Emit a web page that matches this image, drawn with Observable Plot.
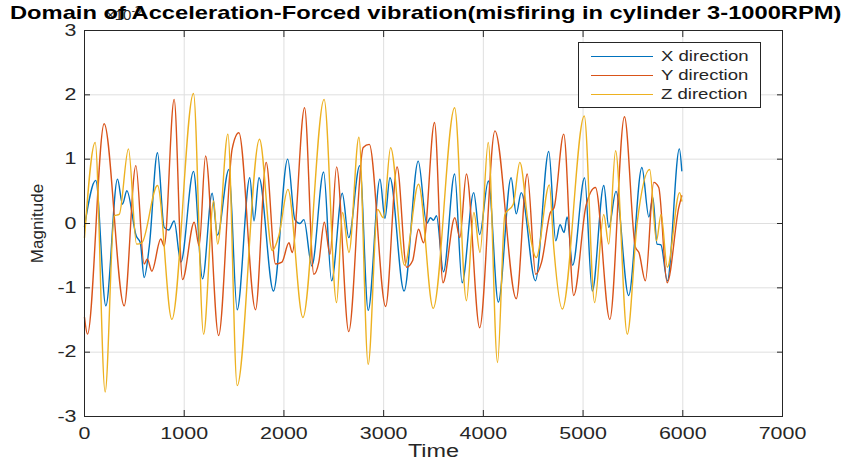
<!DOCTYPE html>
<html><head><meta charset="utf-8">
<script src="https://cdn.jsdelivr.net/npm/d3@7"></script>
<script src="https://cdn.jsdelivr.net/npm/@observablehq/plot@0.6"></script>
<style>
body{margin:0;background:#fff;}
#wrap{position:relative;width:857px;height:468px;font-family:"Liberation Sans",Arial,sans-serif;color:#262626;overflow:hidden;}
#title{position:absolute;left:10px;top:2px;font-weight:bold;font-size:19px;color:#000;white-space:nowrap;transform-origin:0 0;}
#expo{position:absolute;left:106px;top:4px;font-size:15px;color:#262626;}
#legend{position:absolute;left:578px;top:42px;width:181px;height:64px;border:1px solid #262626;background:#fff;font-size:14.5px;}
.li{position:absolute;left:0;height:18px;width:181px;}
.li span.sw{position:absolute;left:12px;top:9px;width:62px;height:0;border-top:1.3px solid;}
.li span.tx{position:absolute;left:82px;top:0;line-height:18px;white-space:nowrap;transform:scaleX(1.28);transform-origin:0 0;}
</style></head><body><div id="wrap"></div>
<script>
const seriesNames = ["X direction", "Y direction", "Z direction"];
const seriesColors = ["#0072BD", "#D95319", "#EDB120"];
const xTicks = [0, 1000, 2000, 3000, 4000, 5000, 6000, 7000];
const yTicks = [-3, -2, -1, 0, 1, 2, 3];

// X direction (blue)
const xTime = [0,113,214,331,381,425,520,560,598,650,732,799,845,899,966,1093,1184,1280,1333,1448,1531,1658,1700,1750,1895,2038,2110,2160,2200,2280,2398,2478,2585,2650,2760,2845,2963,3013,3063,3205,3347,3432,3470,3500,3530,3600,3712,3787,3903,3963,4050,4150,4278,4330,4380,4522,4656,4726,4769,4809,4840,4895,5015,5092,5208,5258,5330,5457,5590,5660,5700,5742,5780,5845,5966,5990];
const xVal  = [-0.05,0.67,-1.28,0.69,0.30,0.51,-0.2,-0.3,-0.84,-0.35,1.1,-0.06,-0.1,0.04,-0.6,0.81,-0.86,0.47,-0.18,0.84,-1.34,0.71,0.04,0.71,-1.05,1.0,0.06,0.0,0.06,-0.66,0.8,-0.89,0.47,-0.22,0.9,-1.35,0.69,0.08,0.71,-1.05,0.97,0.0,0.09,0.05,0.12,-0.75,0.77,-0.92,0.48,-0.17,0.66,-1.22,0.71,0.15,0.48,-0.89,1.12,-0.27,-0.02,-0.14,0.1,-0.65,0.71,-1.05,0.59,-0.06,0.5,-1.12,0.87,0.1,0.4,-0.32,-0.33,-0.89,1.16,0.82];

// Y direction (red)
const yTime = [0,30,197,398,515,598,630,675,765,799,899,983,1100,1150,1214,1345,1481,1548,1715,1822,1916,1980,2050,2083,2207,2300,2350,2405,2462,2528,2650,2795,2856,3020,3135,3230,3290,3350,3400,3510,3595,3714,3764,3830,3963,4116,4330,4440,4525,4584,4672,4710,4806,4906,5030,5124,5268,5415,5525,5560,5625,5709,5759,5843,5960,5990];
const yVal  = [-1.46,-1.72,1.55,-1.28,0.9,-0.63,-0.55,-0.74,-0.24,-0.35,1.93,-0.87,0.02,-0.35,1.05,-1.74,1.16,1.41,-1.34,0.95,-0.63,-0.6,-0.3,-0.45,1.8,-0.79,-0.6,0.02,-0.48,0.88,-1.68,1.18,1.23,-1.29,0.88,-0.68,-0.58,-0.09,-0.3,1.57,-0.92,0.09,-0.22,0.77,-1.62,1.44,-1.17,0.77,-0.79,-0.6,0.17,0.25,1.39,-1.12,0.28,0.56,-1.49,1.66,-0.37,-0.45,-0.89,0.64,0.56,-0.92,0.25,0.43];

// Z direction (yellow)
const zTime = [0,107,207,298,348,441,522,575,732,876,1093,1194,1295,1335,1438,1531,1755,1883,1949,2040,2190,2403,2528,2588,2652,2752,2845,2940,2996,3070,3210,3350,3497,3712,3830,3905,3966,4049,4142,4216,4300,4366,4450,4530,4662,4706,4792,5012,5116,5207,5257,5326,5443,5542,5668,5736,5782,5845,5968,5990];
const zVal  = [-0.22,1.26,-2.62,0.12,0.14,1.16,-0.32,-0.3,0.59,-1.49,2.02,-1.72,0.35,-0.32,1.39,-2.52,1.31,-0.42,-0.19,0.53,-1.46,1.93,-1.23,0.17,-0.45,1.34,-2.19,0.22,0.09,1.18,-0.65,0.61,-1.32,1.8,-1.2,0.17,-0.45,1.26,-2.16,0.14,0.3,0.95,0.0,-0.53,0.6,-0.37,-1.33,1.67,-1.23,0.14,-0.32,1.13,-1.72,0.0,0.84,-0.27,0.14,-0.68,0.48,0.35];

const rows = [];
[[xTime, xVal], [yTime, yVal], [zTime, zVal]].forEach(([ts, vs], i) => {
  ts.forEach((t, j) => rows.push({series: seriesNames[i], t, v: vs[j]}));
});

const font = '"Liberation Sans", Arial, sans-serif';
const fmt = d => String(d);
const plot = Plot.plot({
  width: 857, height: 468,
  marginLeft: 84, marginRight: 75, marginTop: 30, marginBottom: 52,
  x: {domain: [0, 7000]},
  y: {domain: [-3, 3]},
  color: {domain: seriesNames, range: seriesColors},
  style: {fontFamily: font, fontSize: "16px", color: "#262626", background: "transparent"},
  marks: [
    Plot.gridX(xTicks, {stroke: "#dfdfdf", strokeOpacity: 1}),
    Plot.gridY(yTicks, {stroke: "#dfdfdf", strokeOpacity: 1}),
    Plot.line(rows, {x: "t", y: "v", z: "series", stroke: "series", curve: "monotone-x", strokeWidth: 1.4}),
    Plot.frame({stroke: "#262626"}),
    Plot.axisX(xTicks, {anchor: "bottom", tickSize: -6, tickPadding: 17, label: null, fontSize: 16.5, tickFormat: fmt}),
    Plot.axisX(xTicks, {anchor: "top", tickSize: -6, tickFormat: () => "", label: null}),
    Plot.axisY(yTicks, {anchor: "left", tickSize: -6, tickPadding: 14, label: null, fontSize: 16.5, tickFormat: fmt}),
    Plot.axisY(yTicks, {anchor: "right", tickSize: -6, tickFormat: () => "", label: null}),
    Plot.text(["Time"], {frameAnchor: "bottom", dy: 40, fontSize: 18, fill: "#262626"}),
    Plot.text(["Magnitude"], {frameAnchor: "left", textAnchor: "middle", rotate: -90, dx: -47, fontSize: 17, fill: "#262626"})
  ]
});
plot.style.position = "absolute";
plot.style.left = "0";
plot.style.top = "0";

const wrap = document.getElementById("wrap");
wrap.appendChild(plot);

// the reference figure is stretched horizontally: widen horizontal glyphs
plot.querySelectorAll("text").forEach(t => {
  if ((t.getAttribute("transform") || "").includes("rotate")) return;
  const len = t.getComputedTextLength();
  if (len > 0) {
    t.setAttribute("textLength", (len * 1.3).toFixed(1));
    t.setAttribute("lengthAdjust", "spacingAndGlyphs");
  }
});

const expo = document.createElement("div");
expo.id = "expo";
expo.innerHTML = "×10<sup style='font-size:11px'>-3</sup>";
wrap.appendChild(expo);

const title = document.createElement("div");
title.id = "title";
title.textContent = "Domain of Acceleration-Forced vibration(misfiring in cylinder 3-1000RPM)";
wrap.appendChild(title);
title.style.transform = `scaleX(${832 / title.offsetWidth})`;

const legend = document.createElement("div");
legend.id = "legend";
seriesNames.forEach((name, i) => {
  const li = document.createElement("div");
  li.className = "li";
  li.style.top = (4 + i * 19) + "px";
  li.innerHTML = `<span class="sw" style="border-color:${seriesColors[i]}"></span><span class="tx">${name}</span>`;
  legend.appendChild(li);
});
wrap.appendChild(legend);
</script>
</body></html>
